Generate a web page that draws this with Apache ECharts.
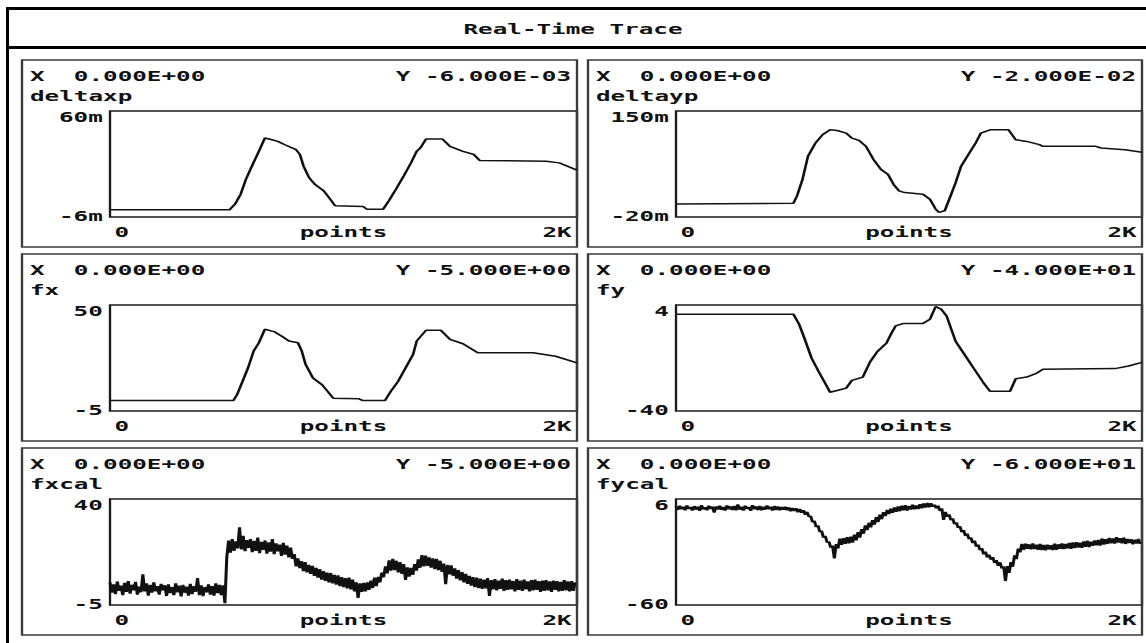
<!DOCTYPE html>
<html><head><meta charset="utf-8">
<script src="https://cdn.jsdelivr.net/npm/echarts@6/dist/echarts.min.js"></script>
<style>
html,body{margin:0;padding:0;background:#fff;overflow:hidden;width:1146px;height:643px;}
#c{width:637px;height:643px;transform:scaleX(1.79906);transform-origin:0 0;}
</style></head><body><div id="c"></div>
<script>
// ---------------- DATA ----------------
const panelNames = ['deltaxp', 'deltayp', 'fx', 'fy', 'fxcal', 'fycal'];
const xReadouts = ['X  0.000E+00', 'X  0.000E+00', 'X  0.000E+00', 'X  0.000E+00', 'X  0.000E+00', 'X  0.000E+00'];
const yReadouts = ['Y -6.000E-03', 'Y -2.000E-02', 'Y -5.000E+00', 'Y -4.000E+01', 'Y -5.000E+00', 'Y -6.000E+01'];
const yMins = [-6, -20, -5, -40, -5, -60];          // deltaxp/deltayp in milli-units
const yMaxs = [60, 150, 50, 4, 40, 6];
const yMinLabels = ['-6m', '-20m', '-5', '-40', '-5', '-60'];
const yMaxLabels = ['60m', '150m', '50', '4', '40', '6'];
const xMax = 2048;
const xMinLabel = '0';
const xMaxLabel = '2K';
const xName = 'points';

// deltaxp (milli)
const deltaxpX = [0, 524, 548, 573, 596, 622, 653, 679, 710, 736, 767, 816, 833, 849, 873, 898, 938, 971, 987, 1109, 1126, 1198, 1223, 1254, 1288, 1320, 1345, 1361, 1386, 1458, 1491, 1548, 1596, 1621, 1913, 1970, 2048];
const deltaxpY = [-1.5, -1.5, 2.0, 8.2, 17.4, 25.6, 34.9, 43.2, 42.1, 41.1, 39.0, 35.9, 32.9, 25.6, 18.5, 14.4, 10.2, 4.1, 1.0, 0.6, -1.1, -1.1, 4.1, 11.3, 19.5, 27.7, 34.9, 37.0, 42.5, 42.5, 38.0, 34.9, 32.9, 29.2, 28.7, 27.7, 23.2];
// deltayp (milli)
const deltaypX = [0, 516, 532, 556, 580, 613, 644, 677, 708, 748, 773, 804, 835, 868, 901, 932, 956, 980, 1005, 1085, 1116, 1141, 1156, 1181, 1204, 1229, 1253, 1285, 1317, 1340, 1380, 1461, 1493, 1541, 1597, 1613, 1845, 1868, 1973, 2048];
const deltaypY = [1, 2, 13.8, 40.4, 77.4, 98.6, 111.9, 119.8, 118.7, 114.6, 106.6, 102.8, 93.3, 72.1, 56.2, 48.3, 32.4, 21.8, 19.2, 16.5, 8.6, -7.3, -12.6, -10.0, 11.3, 35.1, 61.5, 80.1, 98.6, 114.6, 119.8, 119.8, 103.9, 101.2, 96.0, 93.3, 93.3, 90.7, 88.0, 83.7];
// fx
const fxX = [0, 541, 557, 581, 605, 630, 653, 679, 719, 752, 785, 824, 841, 858, 890, 930, 955, 979, 1092, 1109, 1206, 1231, 1263, 1296, 1329, 1345, 1386, 1450, 1491, 1548, 1613, 1855, 1954, 2048];
const fxY = [0.4, 0.4, 3.4, 10.3, 17.3, 26.1, 30.4, 37.4, 36.2, 33.9, 31.3, 30.4, 26.1, 19.1, 12.1, 8.6, 5.1, 1.6, 1.3, 0.4, 0.4, 5.1, 10.3, 17.3, 24.3, 31.3, 36.9, 36.9, 32.2, 29.9, 25.2, 25.2, 23.4, 20.0];
// fy
const fyX = [0, 516, 541, 564, 596, 628, 661, 677, 708, 748, 773, 821, 853, 885, 925, 948, 965, 997, 1085, 1116, 1141, 1165, 1189, 1229, 1269, 1309, 1349, 1380, 1468, 1493, 1541, 1581, 1613, 1929, 1989, 2048];
const fyY = [0.2, 0.2, -4.0, -9.7, -18.1, -23.8, -29.4, -32.2, -31.5, -30.5, -27.3, -25.9, -19.6, -15.3, -11.8, -7.5, -4.7, -3.7, -3.7, -1.9, 3.3, 2.3, -0.5, -11.1, -16.7, -22.4, -28.0, -31.8, -31.8, -26.6, -25.9, -24.5, -22.7, -22.4, -21.3, -19.8];
// fxcal, sampled every 8 points
const sampleStep = 8;
const fxcalY = [
  4.6, 0.2, 3.8, -0.4, 5.0, 1.0, 3.2, -0.8, 4.4, 0.6,
  5.2, -0.2, 3.6, 1.2, 4.8, -0.6, 2.8, 0.4, 8.0, 0.8,
  4.2, -1.0, 3.6, 0.2, 4.6, 0.8, 3.0, -0.6, 4.0, 1.2,
  3.4, -1.2, 3.8, 0.0, 2.6, -0.8, 4.2, 0.4, 3.2, -1.4,
  3.6, 0.2, 2.8, -1.0, 4.0, -0.4, 3.0, 0.6, 6.4, -0.8,
  3.4, -1.2, 2.6, 0.4, 3.8, -0.6, 3.0, -1.0, 4.2, 0.0,
  3.6, -0.8, 3.4, -4.2, 15.0,
  22.4, 17.2, 23.0, 18.0, 22.0,
  19.0, 28.0, 18.6, 24.4, 17.8, 22.6, 19.2, 23.0, 17.4, 22.2,
  18.0, 23.6, 17.0, 21.8, 18.4, 22.4, 16.8, 21.6, 17.6, 23.0,
  16.6, 21.2, 17.8, 20.6, 15.8, 21.4, 16.4, 20.2, 15.2, 19.4,
  14.6, 16.6, 11.4, 14.8, 10.6, 13.6, 9.4, 13.2, 8.8, 12.0,
  8.2, 11.6, 7.4, 10.8, 6.6, 10.2, 5.8, 9.4, 5.2, 8.8,
  4.6, 8.6, 4.2, 7.8, 3.6, 7.6, 3.0, 6.8, 2.6, 6.4,
  2.0, 6.6, 1.6, 5.8, 0.8, 4.6, -2.0, 4.2, 0.6, 4.4,
  0.8, 4.6, 1.4, 5.4, 2.2, 6.6, 3.0, 7.0, 4.6, 8.8,
  6.8, 11.4, 8.4, 14.0, 9.6, 14.6, 9.8, 13.8, 8.8, 13.2,
  8.2, 12.4, 5.6, 11.0, 7.0, 10.8, 7.8, 12.4, 9.6, 14.4,
  10.8, 16.2, 11.4, 16.0, 11.6, 15.2, 10.8, 14.8, 10.2, 14.6,
  9.8, 13.8, 9.0, 12.6, 3.8, 12.0, 8.0, 11.8, 7.4, 10.6,
  6.2, 9.8, 5.4, 9.0, 4.6, 8.2, 4.0, 7.4, 3.2, 6.8,
  2.6, 6.6, 2.2, 6.2, 1.8, 5.8, 2.0, 6.4, -1.2, 5.6,
  1.6, 6.0, 1.2, 5.4, 1.8, 6.2, 1.0, 5.6, 1.4, 5.8,
  1.6, 5.2, 0.8, 6.0, 1.4, 5.4, 1.0, 5.8, 1.6, 5.0,
  0.8, 5.6, 1.2, 5.8, 1.4, 5.2, 0.6, 5.4, 1.0, 5.6,
  1.2, 5.0, 0.6, 5.4, 1.4, 5.2, 0.8, 4.8, 1.0, 5.6,
  1.2, 5.0, 0.8, 5.2, 1.0, 4.6
];
// fycal, sampled every 8 points
const fycalY = [
  1.4, -0.8, 1.8, -0.4, 1.2, -1.0, 2.0, -0.2, 1.0, -1.2,
  1.6, -0.6, 1.2, -1.4, 2.2, -0.4, 0.8, -1.0, 1.8, -0.2,
  1.2, -2.4, 1.4, -0.6, 1.8, -0.8, 1.0, -1.2, 2.0, -0.4,
  1.4, -0.8, 1.6, -1.0, 2.6, -0.6, 1.2, -1.2, 1.8, -0.2,
  1.0, -1.4, 2.2, -0.4, 1.4, -0.8, 1.6, -1.0, 1.2, -0.6,
  2.0, -0.4, 1.2, -1.2, 1.6, -0.8, 1.4, -1.0, 1.0, -0.6,
  1.2, -1.0, 0.8, -1.6, 0.4, -1.4, 0.2, -2.2, -0.2, -2.6,
  -1.0, -3.8, -2.0, -5.0, -4.6, -8.4, -7.6, -11.4, -10.4, -14.4,
  -13.8, -18.0, -17.0, -21.0, -20.6, -24.2, -23.0, -31.0, -22.0, -24.8,
  -18.6, -22.6, -18.4, -22.0, -17.8, -21.6, -17.4, -21.2, -16.2, -19.8,
  -14.6, -18.0, -12.8, -15.6, -10.4, -13.4, -8.8, -11.6, -7.2, -10.0,
  -5.2, -8.4, -3.8, -6.6, -2.2, -4.6, -0.8, -3.4, 0.0, -2.6,
  0.8, -2.0, 1.4, -1.6, 1.8, -1.0, 2.2, -1.2, 1.6, -0.6,
  2.4, -0.4, 2.0, -0.2, 2.8, 0.2, 3.2, 0.6, 3.6, 0.8,
  3.4, 1.2, 2.4, 0.2, 1.8, -1.4, 0.2, -7.0, -2.0, -5.0,
  -3.6, -7.2, -6.0, -9.6, -8.6, -12.0, -11.0, -14.6, -13.4, -17.0,
  -15.6, -19.0, -18.0, -21.4, -20.0, -23.6, -22.4, -25.8, -24.6, -28.4,
  -26.8, -30.4, -28.6, -31.8, -30.2, -33.8, -32.0, -35.6, -33.4, -37.2,
  -36.0, -45.0, -35.8, -40.0, -33.2, -36.2, -29.0, -31.4, -24.8, -27.2,
  -22.0, -25.6, -21.8, -25.0, -22.2, -25.4, -21.6, -25.2, -22.4, -25.6,
  -22.0, -25.8, -22.6, -26.0, -22.4, -25.4, -22.8, -25.8, -21.8, -25.6,
  -22.2, -25.0, -21.6, -25.2, -22.0, -24.8, -21.4, -25.0, -21.0, -24.6,
  -20.8, -24.2, -21.2, -24.4, -20.4, -23.8, -20.0, -24.0, -20.6, -23.2,
  -19.8, -22.8, -19.4, -23.0, -18.6, -22.4, -19.0, -22.0, -18.2, -21.6,
  -18.6, -21.8, -17.8, -21.2, -18.4, -21.6, -18.0, -22.0, -18.8, -21.4,
  -19.0, -22.2, -19.4, -21.8, -18.8, -22.0
];

// ---------------- LAYOUT (screen px) ----------------
const S = 1146 / 637;            // horizontal stretch of the old display
const sx = v => v / S;
const FONT = '"DejaVu Sans Mono", monospace';
const FS = 13.5;
const INK = '#111';
const cols = [{left: 22, right: 577, plotLeft: 110}, {left: 588, right: 1142, plotLeft: 676}];
const rowTops = [60, 254, 448];
const panelH = 187, plotOff = 51, plotH = 106;

const zip = (xs, ys) => xs.map((x, i) => [x, ys[i]]);
const seriesData = [
  zip(deltaxpX, deltaxpY),
  zip(deltaypX, deltaypY),
  zip(fxX, fxY),
  zip(fyX, fyY),
  fxcalY.map((v, i) => [i * sampleStep, v]),
  fycalY.map((v, i) => [i * sampleStep, v])
];
const lineWidths = [1.5, 1.5, 1.5, 1.5, 1.7, 1.7];

const txt = {fontFamily: FONT, fontWeight: 'bold', fontSize: FS, color: INK};
const grids = [], xAxes = [], yAxes = [], series = [];
const graphics = [];
const W = 637;

// outer frame + title bar
graphics.push({type: 'rect', silent: true, shape: {x: sx(6), y: 7, width: W, height: 3}, style: {fill: '#000'}});
graphics.push({type: 'rect', silent: true, shape: {x: sx(6), y: 7, width: sx(3), height: 640}, style: {fill: '#000'}});
graphics.push({type: 'rect', silent: true, shape: {x: sx(6), y: 46, width: W, height: 3}, style: {fill: '#000'}});
graphics.push({type: 'text', silent: true, x: sx(573), y: 30,
  style: {text: 'Real-Time Trace', font: 'bold ' + FS + 'px ' + FONT, fill: INK, align: 'center', verticalAlign: 'middle'}});

for (let i = 0; i < 6; i++) {
  const c = cols[i % 2];
  const top = rowTops[Math.floor(i / 2)];
  graphics.push({type: 'rect', silent: true,
    shape: {x: sx(c.left), y: top, width: sx(c.right - c.left), height: panelH},
    style: {fill: 'none', stroke: '#3a3a3a', lineWidth: 1.3}});
  graphics.push({type: 'text', silent: true, x: sx(c.left + 8), y: top + 17,
    style: {text: xReadouts[i], font: 'bold ' + FS + 'px ' + FONT, fill: INK, align: 'left', verticalAlign: 'middle'}});
  graphics.push({type: 'text', silent: true, x: sx(c.right - 6), y: top + 17,
    style: {text: yReadouts[i], font: 'bold ' + FS + 'px ' + FONT, fill: INK, align: 'right', verticalAlign: 'middle'}});
  graphics.push({type: 'text', silent: true, x: sx(c.left + 8), y: top + 37,
    style: {text: panelNames[i], font: 'bold ' + FS + 'px ' + FONT, fill: INK, align: 'left', verticalAlign: 'middle'}});

  grids.push({left: sx(c.plotLeft), top: top + plotOff, width: sx(c.right - c.plotLeft), height: plotH,
    show: true, borderColor: '#1a1a1a', borderWidth: 1.3, backgroundColor: 'transparent', containLabel: false});
  const mn = yMins[i], mx = yMaxs[i], lo = yMinLabels[i], hi = yMaxLabels[i];
  xAxes.push({gridIndex: i, type: 'value', min: 0, max: xMax, interval: xMax,
    axisLine: {show: false}, axisTick: {show: false}, splitLine: {show: false},
    axisLabel: Object.assign({}, txt, {margin: 9, showMinLabel: true, showMaxLabel: true,
      alignMinLabel: 'left', alignMaxLabel: 'right', padding: [0, 3, 0, 2.5],
      formatter: v => v === 0 ? xMinLabel : (v === xMax ? xMaxLabel : '')}),
    name: xName, nameLocation: 'middle', nameGap: 9, nameMoveOverlap: false,
    nameTextStyle: Object.assign({}, txt)});
  yAxes.push({gridIndex: i, type: 'value', min: mn, max: mx,
    axisLine: {show: false}, axisTick: {show: false}, splitLine: {show: false},
    axisLabel: Object.assign({}, txt, {margin: 4, showMinLabel: true, showMaxLabel: true,
      verticalAlignMinLabel: 'middle', verticalAlignMaxLabel: 'top', padding: [0, 0, 12, 0],
      formatter: v => v === mn ? lo : (v === mx ? hi : '')})});
  series.push({type: 'line', xAxisIndex: i, yAxisIndex: i, data: seriesData[i],
    showSymbol: false, symbol: 'none', silent: true, clip: true, sampling: null,
    lineStyle: {color: INK, width: lineWidths[i]}});
}

const chart = echarts.init(document.getElementById('c'), null, {renderer: 'svg', width: 637, height: 643});
chart.setOption({
  animation: false,
  backgroundColor: '#fff',
  grid: grids, xAxis: xAxes, yAxis: yAxes, series: series,
  graphic: {elements: graphics}
});
</script></body></html>
